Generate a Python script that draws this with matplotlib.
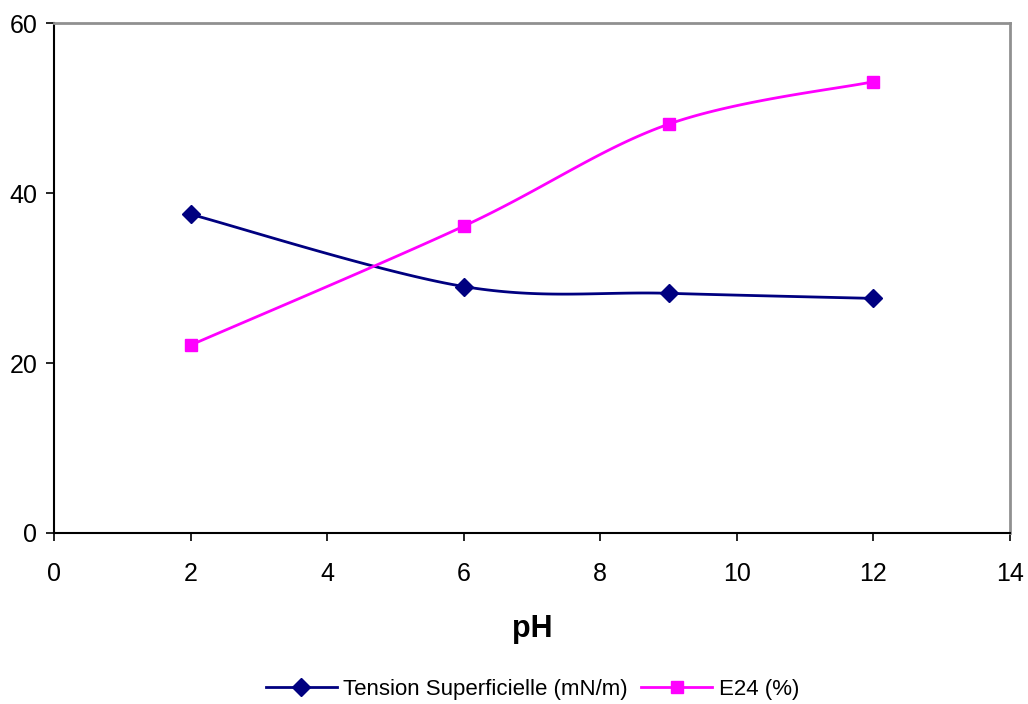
import numpy as np
import matplotlib
matplotlib.use("Agg")
import matplotlib.pyplot as plt
from matplotlib.lines import Line2D

plt.rcParams['font.family'] = ['Liberation Sans', 'DejaVu Sans']

ph = [2, 6, 9, 12]
tension = [37.5, 29.0, 28.2, 27.6]
e24 = [22.1, 36.1, 48.1, 53.1]
label_tension = "Tension Superficielle (mN/m)"
label_e24 = "E24 (%)"
x_ticks = [0, 2, 4, 6, 8, 10, 12, 14]
y_ticks = [0, 20, 40, 60]


def smooth(x, y, sxs, sys_, n=40):
    # Catmull-Rom (Excel-like smoothed line) computed in screen-proportional space
    p = np.column_stack([np.asarray(x, float) * sxs, np.asarray(y, float) * sys_])
    p = np.vstack([p[0], p, p[-1]])
    out = []
    for i in range(1, len(p) - 2):
        p0, p1, p2, p3 = p[i - 1], p[i], p[i + 1], p[i + 2]
        t = np.linspace(0, 1, n)[:, None]
        seg = 0.5 * ((2 * p1) + (-p0 + p2) * t + (2 * p0 - 5 * p1 + 4 * p2 - p3) * t ** 2
                     + (-p0 + 3 * p1 - 3 * p2 + p3) * t ** 3)
        out.append(seg if i == 1 else seg[1:])
    s = np.vstack(out)
    return s[:, 0] / sxs, s[:, 1] / sys_


fig = plt.figure(figsize=(10.28, 7.04), dpi=100)
ax = fig.add_axes([0.0525, 0.2429, 0.93, 0.7244])

# pixels per data unit (axis width / x-range, axis height / y-range)
kx = 0.93 * 1028 / 14
ky = 0.7244 * 704 / 60

navy = '#000080'
mag = '#FF00FF'
sx, sy = smooth(ph, tension, kx, ky)
ax.plot(sx, sy, color=navy, lw=2.0, zorder=3)
ax.plot(ph, tension, ls='none', marker='D', ms=9, color=navy, zorder=4)
sx, sy = smooth(ph, e24, kx, ky)
ax.plot(sx, sy, color=mag, lw=2.0, zorder=3)
ax.plot(ph, e24, ls='none', marker='s', ms=9, color=mag, zorder=4)

ax.set_xlim(0, 14)
ax.set_ylim(0, 60)
ax.set_xticks(x_ticks)
ax.set_yticks(y_ticks)
ax.tick_params(direction='out', length=6, width=1.2, labelsize=18, colors='black')
ax.tick_params(axis='y', pad=6)
ax.tick_params(axis='x', pad=15)
for s in ['left', 'bottom']:
    ax.spines[s].set_color('black')
    ax.spines[s].set_linewidth(1.5)
for s in ['top', 'right']:
    ax.spines[s].set_color('#909090')
    ax.spines[s].set_linewidth(2)

ax.set_xlabel('pH', fontsize=22, fontweight='bold', labelpad=20)

handles = [Line2D([], [], color=navy, lw=2, marker='D', ms=9),
           Line2D([], [], color=mag, lw=2, marker='s', ms=9)]
fig.legend(handles, [label_tension, label_e24], loc='center', bbox_to_anchor=(0.518, 0.021),
           ncol=2, frameon=False, fontsize=16, handlelength=3.2, columnspacing=0.6,
           handletextpad=0.3)

fig.savefig('out.png', dpi=100)
